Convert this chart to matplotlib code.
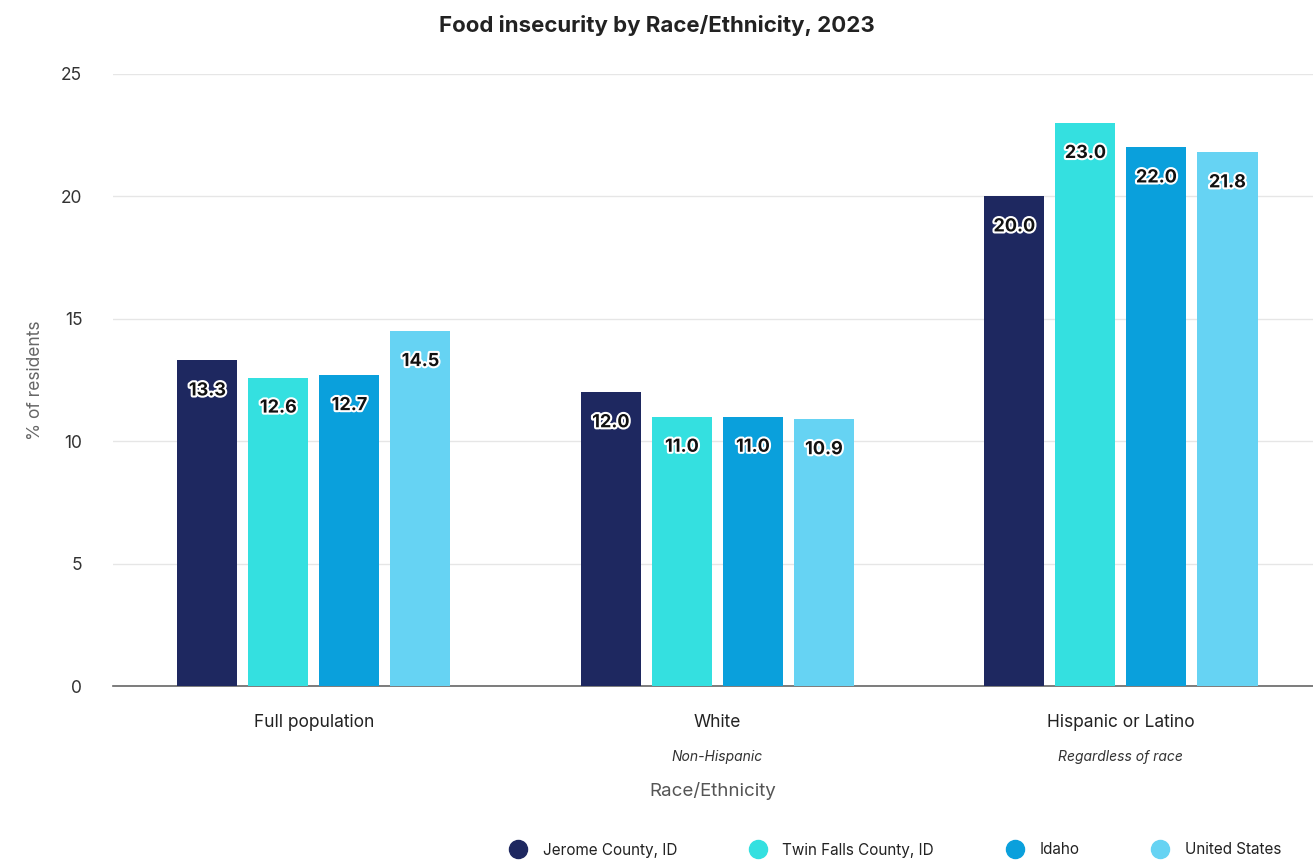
import matplotlib
matplotlib.use("Agg")
import matplotlib.pyplot as plt
import matplotlib.patheffects as pe
from matplotlib.lines import Line2D
import numpy as np

plt.rcParams['font.family'] = ['Inter', 'DejaVu Sans']

categories = ["Full population", "White", "Hispanic or Latino"]
subtitles = ["", "Non-Hispanic", "Regardless of race"]
series_names = ["Jerome County, ID", "Twin Falls County, ID", "Idaho", "United States"]
jerome = [13.3, 12.0, 20.0]
twin_falls = [12.6, 11.0, 23.0]
idaho = [12.7, 11.0, 22.0]
united_states = [14.5, 10.9, 21.8]
colors = ["#1e2860", "#34e0e0", "#0aa0dc", "#66d3f3"]
yticks = [0, 5, 10, 15, 20, 25]

series = [jerome, twin_falls, idaho, united_states]

fig = plt.figure(figsize=(13.13, 8.64), dpi=100)
ax = fig.add_axes([0.086, 0.206, 0.914, 0.7084])

x = np.arange(len(categories))
width = 0.149
step = 0.176
offsets = (np.arange(len(series)) - 1.5) * step

for i, (vals, col) in enumerate(zip(series, colors)):
    bars = ax.bar(x + offsets[i], vals, width=width, color=col, zorder=3)
    for b, v in zip(bars, vals):
        ax.annotate(f"{v:.1f}", (b.get_x() + b.get_width() / 2, v),
                    xytext=(0, -22), textcoords="offset points",
                    ha="center", va="center", fontsize=13, fontweight="bold",
                    color="#111111", zorder=4,
                    path_effects=[pe.withStroke(linewidth=3, foreground="white")])

ax.set_xlim(-0.498, 2.476)
ax.set_ylim(0, 25)
ax.set_yticks(yticks)
ax.yaxis.grid(True, color="#e6e6e6", linewidth=1, zorder=0)
ax.set_axisbelow(True)
for s in ["top", "right", "left"]:
    ax.spines[s].set_visible(False)
ax.spines["bottom"].set_color("#666666")
ax.spines["bottom"].set_linewidth(1.2)
ax.tick_params(axis="y", length=0, pad=22, labelsize=12.5, labelcolor="#333333")
ax.tick_params(axis="x", length=0, pad=20, labelsize=12.5, labelcolor="#222222")
ax.set_xticks(x)
ax.set_xticklabels(categories)

for xi, sub in zip(x, subtitles):
    if sub:
        ax.annotate(sub, (xi, 0), xytext=(0, -51), textcoords="offset points",
                    ha="center", va="center", fontsize=10, fontstyle="italic",
                    color="#333333", annotation_clip=False)

ax.set_xlabel("Race/Ethnicity", fontsize=13.5, color="#555555", labelpad=37)
ax.set_ylabel("% of residents", fontsize=12.5, color="#666666", labelpad=12)

fig.text(0.5, 1 - 25 / 864, "Food insecurity by Race/Ethnicity, 2023",
         ha="center", va="center", fontsize=16, fontweight="bold", color="#222222")

handles = [Line2D([0], [0], marker="o", linestyle="", markersize=13,
                  markerfacecolor=c, markeredgecolor=c) for c in colors]
fig.legend(handles, series_names, loc="center", ncol=4,
           bbox_to_anchor=(892 / 1313, 1 - 850 / 864), frameon=False,
           fontsize=11, columnspacing=4.3, handletextpad=0.6,
           labelcolor="#222222")

fig.savefig("out.png", dpi=100)
